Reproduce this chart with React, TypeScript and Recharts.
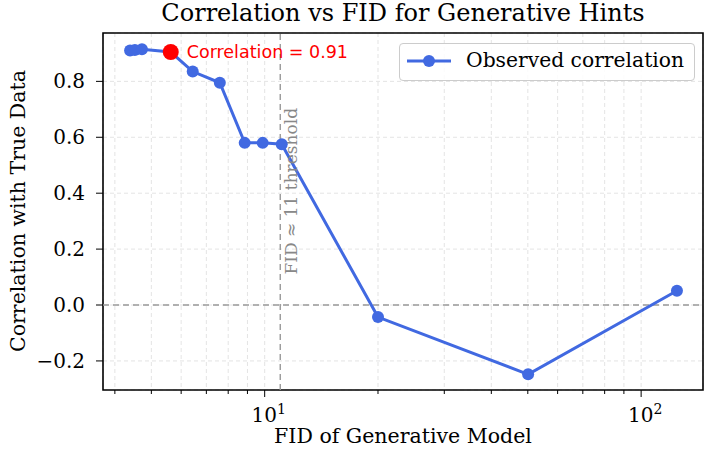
import React from "react";
import {
  ComposedChart,
  Line,
  Scatter,
  XAxis,
  YAxis,
  CartesianGrid,
  ReferenceLine,
  ReferenceArea,
  ReferenceDot,
} from "recharts";

const fidValues = [4.39, 4.52, 4.72, 5.63, 6.44, 7.6, 8.85, 9.88, 11.1, 20.0, 50.1, 124.5];
const correlations = [0.91, 0.912, 0.915, 0.905, 0.835, 0.795, 0.58, 0.58, 0.575, -0.043, -0.248, 0.051];
const highlightFid = [5.63];
const highlightCorr = [0.905];
const xTicks = [4, 5, 6, 7, 8, 9, 10, 20, 30, 40, 50, 60, 70, 80, 90, 100];
const yTicks = [-0.2, 0, 0.2, 0.4, 0.6, 0.8];
const thresholdFid = 11;

const X_DOMAIN: [number, number] = [3.72, 146];
const Y_DOMAIN: [number, number] = [-0.304, 0.973];

const SERIF = "'DejaVu Serif', serif";
const BLUE = "#4169e1";

const chartData = fidValues.map((fid, i) => ({ fid, corr: correlations[i] }));
const highlightData = highlightFid.map((fid, i) => ({ fid, corr: highlightCorr[i] }));

const XTick = (props: any) => {
  const { x, y, payload } = props;
  const v = payload.value;
  const major = v === 10 || v === 100;
  const exp = Math.round(Math.log10(v));
  return (
    <g>
      <line x1={x} x2={x} y1={y - 8} y2={y - 8 + (major ? 7 : 4)} stroke="#000" strokeWidth={1} />
      {major && (
        <text x={x + 4} y={y + 24} textAnchor="middle" fontFamily={SERIF} fontSize={20} fill="#000">
          <tspan>10</tspan>
          <tspan dy={-8} fontSize={14}>{exp}</tspan>
        </text>
      )}
    </g>
  );
};

const YTick = (props: any) => {
  const { x, y, payload } = props;
  const v = payload.value as number;
  const label = v < 0 ? "\u2212" + Math.abs(v).toFixed(1) : v.toFixed(1);
  return (
    <g>
      <line x1={x + 1} x2={x + 8} y1={y} y2={y} stroke="#000" strokeWidth={1} />
      <text x={x - 10} y={y} dy={7} textAnchor="end" fontFamily={SERIF} fontSize={20} fill="#000">
        {label}
      </text>
    </g>
  );
};

const HighlightShape = (props: any) => {
  const { cx, cy } = props;
  return (
    <g>
      <circle cx={cx} cy={cy} r={8} fill="#ff0000" />
      <text x={cx + 16} y={cy} dy={6} fontFamily="'DejaVu Sans', sans-serif" fontSize={17.5} fill="#ff0000">
        Correlation = {highlightCorr[0].toFixed(2)}
      </text>
    </g>
  );
};

const ThresholdLabel = (props: any) => {
  const { viewBox } = props;
  const cx = viewBox.x + viewBox.width / 2 + 17;
  const cy = viewBox.y + viewBox.height / 2 - 2;
  return (
    <text
      x={cx}
      y={cy}
      textAnchor="middle"
      transform={`rotate(-90, ${cx}, ${cy})`}
      fontFamily={SERIF}
      fontSize={17}
      fill="#888888"
    >
      FID ≈ {thresholdFid} threshold
    </text>
  );
};

export default function App() {
  return (
    <div style={{ position: "absolute", left: 0, top: 0, width: 704, height: 453, background: "#fff" }}>
      <div
        style={{
          position: "absolute",
          left: 0,
          top: -1,
          width: 806,
          textAlign: "center",
          fontFamily: SERIF,
          fontSize: 24,
          color: "#000",
          whiteSpace: "nowrap",
        }}
      >
        Correlation vs FID for Generative Hints
      </div>
      <div
        style={{
          position: "absolute",
          left: 103,
          top: 424,
          width: 600,
          textAlign: "center",
          fontFamily: SERIF,
          fontSize: 20.5,
          whiteSpace: "nowrap",
        }}
      >
        FID of Generative Model
      </div>
      <div
        style={{
          position: "absolute",
          left: 18,
          top: 211,
          transform: "translate(-50%, -50%) rotate(-90deg)",
          whiteSpace: "nowrap",
          fontFamily: SERIF,
          fontSize: 20.5,
        }}
      >
        Correlation with True Data
      </div>
      <ComposedChart
        width={704}
        height={453}
        data={chartData}
        margin={{ top: 33, right: 1, bottom: 0, left: 3 }}
        style={{ position: "absolute", left: 0, top: 0 }}
      >
        <CartesianGrid stroke="#dddddd" strokeDasharray="4 3" strokeWidth={0.8} />
        <XAxis
          dataKey="fid"
          type="number"
          scale="log"
          domain={X_DOMAIN}
          allowDataOverflow
          ticks={xTicks}
          interval={0}
          height={63}
          tick={<XTick />}
          tickLine={false}
          axisLine={false}
        />
        <YAxis
          dataKey="corr"
          type="number"
          domain={Y_DOMAIN}
          allowDataOverflow
          ticks={yTicks}
          interval={0}
          width={100}
          tick={<YTick />}
          tickLine={false}
          axisLine={false}
        />
        <ReferenceLine y={0} stroke="#999999" strokeDasharray="6 4" strokeWidth={1.4} />
        <ReferenceLine x={thresholdFid} stroke="#999999" strokeDasharray="6 4" strokeWidth={1.4} />
        <ReferenceDot x={thresholdFid} y={0.4} r={0} stroke="none" fill="none" label={<ThresholdLabel />} />
        <Line
          dataKey="corr"
          stroke={BLUE}
          strokeWidth={3}
          dot={{ r: 6, fill: BLUE, stroke: BLUE, strokeWidth: 0 }}
          isAnimationActive={false}
        />
        <Scatter data={highlightData} dataKey="corr" shape={<HighlightShape />} isAnimationActive={false} />
        <ReferenceArea
          x1={X_DOMAIN[0]}
          x2={X_DOMAIN[1]}
          y1={Y_DOMAIN[0]}
          y2={Y_DOMAIN[1]}
          fill="none"
          stroke="#000"
          strokeWidth={1.6}
          ifOverflow="visible"
        />
      </ComposedChart>
      <div
        style={{
          position: "absolute",
          left: 399,
          top: 43,
          width: 296,
          height: 38,
          border: "1px solid #cccccc",
          borderRadius: 4,
          background: "rgba(255,255,255,0.85)",
          boxSizing: "border-box",
        }}
      >
        <svg width={60} height={36} style={{ position: "absolute", left: 4, top: 0 }}>
          <line x1={3} x2={47} y1={17} y2={17} stroke={BLUE} strokeWidth={3} />
          <circle cx={25} cy={17} r={6} fill={BLUE} />
        </svg>
        <span
          style={{
            position: "absolute",
            left: 66,
            top: 4,
            fontFamily: SERIF,
            fontSize: 20.3,
            whiteSpace: "nowrap",
          }}
        >
          Observed correlation
        </span>
      </div>
    </div>
  );
}
